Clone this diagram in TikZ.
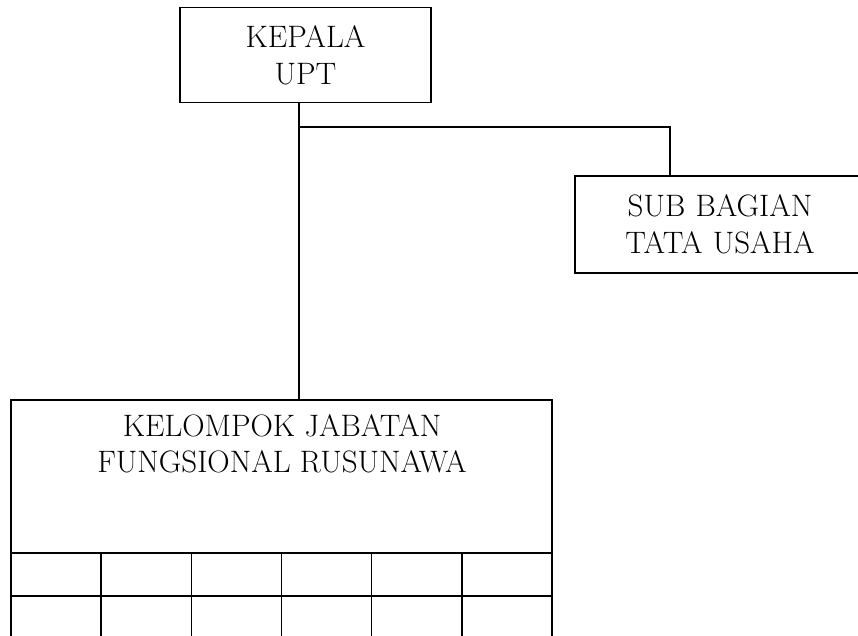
\documentclass[tikz,border=0pt]{standalone}
\begin{document}
\begin{tikzpicture}[x=1pt,y=-1pt,
  box/.style={draw=black,line width=1.6pt,rectangle,inner sep=0pt,outer sep=0pt,align=center,
    font=\fontsize{31}{37}\selectfont},
  cell/.style={draw=black,line width=1.6pt,rectangle,inner sep=0pt,outer sep=0pt,
    minimum width=90.17pt,minimum height=43pt},
  conn/.style={line width=1.6pt}]
\useasboundingbox[fill=white] (0,0) rectangle (858,635);
% boxes
\node[box,minimum width=251pt,minimum height=95pt] (kepala) at (305.5,55) {KEPALA\\UPT};
\node[box,minimum width=290pt,minimum height=97pt,text width=290pt] (sub) at (720,224.5) {SUB BAGIAN\\TATA USAHA};
\node[box,minimum width=541pt,minimum height=153pt,anchor=north west] (kel) at (11,400) {};
\node[font=\fontsize{31}{36}\selectfont,align=center,anchor=north,inner sep=0pt] (keltext) at (282,414) {KELOMPOK JABATAN\\FUNGSIONAL RUSUNAWA};
% grid cells
\foreach \i in {0,...,5}{
  \node[cell,anchor=north west] (ca\i) at ({11+\i*90.17},553) {};
  \node[cell,anchor=north west] (cb\i) at ({11+\i*90.17},596) {};
}
% connectors
\coordinate (j) at (299,127);
\coordinate (t) at (670,127);
\draw[conn] (kepala.south -| j) -- (kel.north -| j);
\draw[conn] (j) -- (t) -- (sub.north -| t);
\end{tikzpicture}
\end{document}
